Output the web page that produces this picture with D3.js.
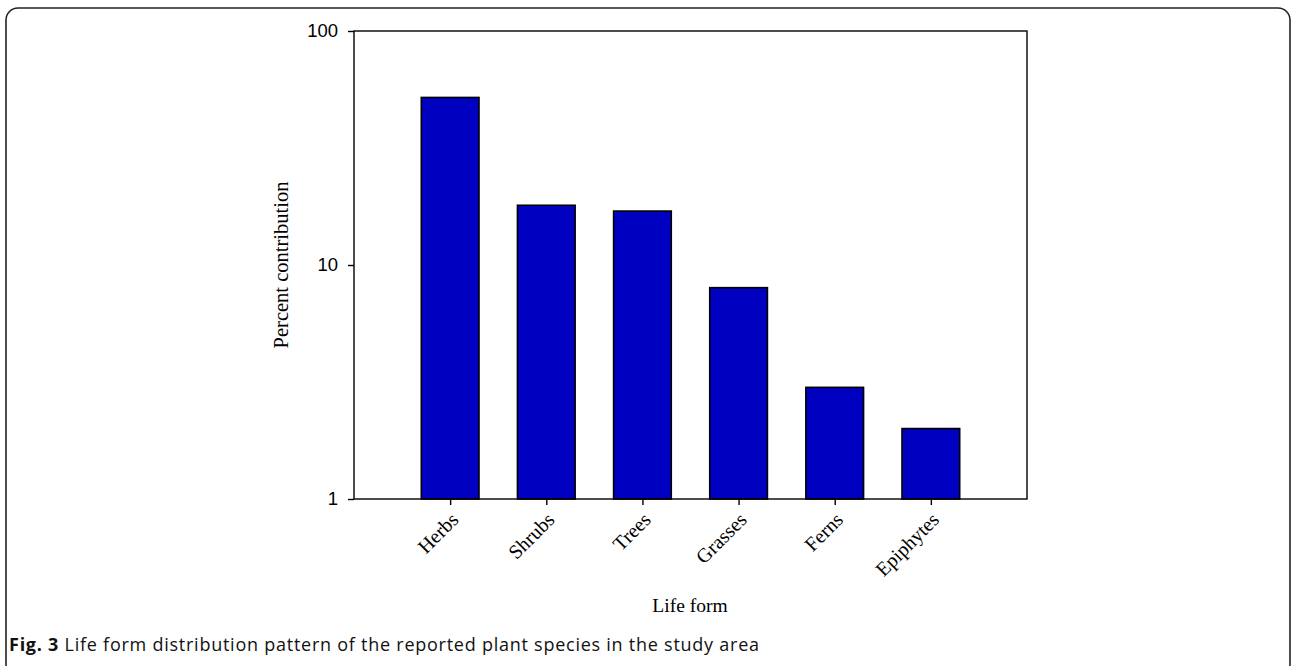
<!DOCTYPE html>
<html>
<head>
<meta charset="utf-8">
<script src="https://cdn.jsdelivr.net/npm/d3@7"></script>
<style>
  html, body { margin: 0; padding: 0; background: #fff; }
  svg { display: block; }
</style>
</head>
<body>
<svg id="chart" width="1292" height="666"></svg>
<script>
// Life forms of the reported plant species and their share (%)
const categories = ["Herbs", "Shrubs", "Trees", "Grasses", "Ferns", "Epiphytes"];
const percents = [52, 18, 17, 8, 3, 2];
const yTicks = [1, 10, 100];

const svg = d3.select("#chart");

// outer rounded frame around the figure
svg.append("rect")
  .attr("x", 6).attr("y", 8)
  .attr("width", 1284).attr("height", 668)
  .attr("rx", 12).attr("ry", 12)
  .attr("fill", "none").attr("stroke", "#222").attr("stroke-width", 1.6);

const plot = { left: 354, right: 1027, top: 31, bottom: 499 };

const x = d3.scalePoint()
  .domain(categories)
  .range([plot.left, plot.right])
  .padding(1);

const y = d3.scaleLog()
  .domain([1, 100])
  .range([plot.bottom, plot.top]);

const barW = x.step() * 0.6;

// bars
svg.append("g").selectAll("rect")
  .data(categories.map((c, i) => ({ c, v: percents[i] })))
  .join("rect")
  .attr("x", d => x(d.c) - barW / 2)
  .attr("y", d => y(d.v))
  .attr("width", barW)
  .attr("height", d => y(1) - y(d.v))
  .attr("fill", "#0000c0")
  .attr("stroke", "#000")
  .attr("stroke-width", 1.6);

// plot frame
svg.append("rect")
  .attr("x", plot.left).attr("y", plot.top)
  .attr("width", plot.right - plot.left)
  .attr("height", plot.bottom - plot.top)
  .attr("fill", "none").attr("stroke", "#000").attr("stroke-width", 1.4);

// y axis
const yAxis = d3.axisLeft(y)
  .tickValues(yTicks)
  .tickFormat(d3.format("d"))
  .tickSize(6)
  .tickSizeOuter(0)
  .tickPadding(10);
const gy = svg.append("g")
  .attr("transform", `translate(${plot.left},0)`)
  .call(yAxis);
gy.select(".domain").remove();
gy.selectAll(".tick line").attr("stroke", "#000").attr("stroke-width", 1.4);
gy.selectAll(".tick text")
  .attr("fill", "#000")
  .style("font-family", "'Liberation Sans', Arial, sans-serif")
  .style("font-size", "18.5px");

// x axis
const xAxis = d3.axisBottom(x)
  .tickSize(6)
  .tickSizeOuter(0)
  .tickPadding(4);
const gx = svg.append("g")
  .attr("transform", `translate(0,${plot.bottom})`)
  .call(xAxis);
gx.select(".domain").remove();
gx.selectAll(".tick line").attr("stroke", "#000").attr("stroke-width", 1.4);
gx.selectAll(".tick text")
  .attr("fill", "#000")
  .attr("text-anchor", "end")
  .attr("dy", "0.35em")
  .attr("transform", "translate(-3,10) rotate(-45)")
  .style("font-family", "'Liberation Serif', 'Times New Roman', serif")
  .style("font-size", "20px");

// axis titles
svg.append("text")
  .attr("transform", `translate(288,265) rotate(-90)`)
  .attr("text-anchor", "middle")
  .style("font-family", "'Liberation Serif', 'Times New Roman', serif")
  .style("font-size", "20.5px")
  .text("Percent contribution");

svg.append("text")
  .attr("x", 690).attr("y", 612)
  .attr("text-anchor", "middle")
  .style("font-family", "'Liberation Serif', 'Times New Roman', serif")
  .style("font-size", "19.5px")
  .text("Life form");

// figure caption
const cap = svg.append("text")
  .attr("x", 9).attr("y", 651)
  .style("font-family", "'Open Sans', 'Noto Sans', sans-serif")
  .style("font-size", "18px")
  .style("letter-spacing", "0.75px")
  .attr("fill", "#111");
cap.append("tspan").style("font-weight", "bold").text("Fig. 3");
cap.append("tspan").text(" Life form distribution pattern of the reported plant species in the study area");
</script>
</body>
</html>
